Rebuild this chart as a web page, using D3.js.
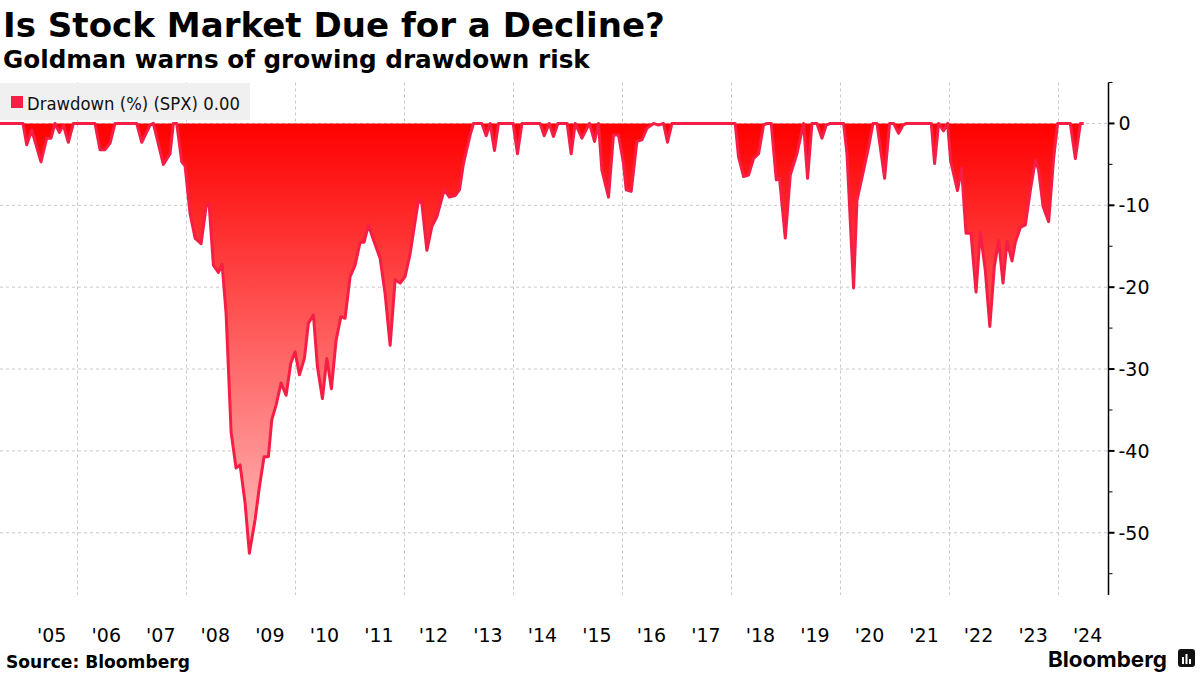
<!DOCTYPE html>
<html><head><meta charset="utf-8">
<script src="https://cdn.jsdelivr.net/npm/d3@7"></script>
<style>
html,body{margin:0;padding:0;background:#fff;}
svg{display:block;}
</style></head>
<body>
<svg id="chart" width="1200" height="675"></svg>
<script>
// ---- data (decimal year, drawdown %) ----
const dates = [2004.587,2005.009,2005.077,2005.169,2005.339,2005.444,2005.523,2005.596,2005.675,2005.749,2005.840,2005.932,
2006.330,2006.422,2006.514,2006.606,2006.697,2007.095,2007.187,2007.339,2007.400,2007.583,2007.706,2007.767,2007.829,2007.921,2007.982,
2008.073,2008.165,2008.275,2008.367,2008.422,2008.501,2008.593,2008.661,2008.734,2008.826,2008.917,2008.991,
2009.083,2009.161,2009.266,2009.345,2009.431,2009.510,2009.572,2009.651,2009.743,2009.835,2009.921,
2010.000,2010.079,2010.171,2010.244,2010.336,2010.409,2010.501,2010.582,2010.666,2010.752,2010.839,2010.917,
2011.009,2011.101,2011.193,2011.266,2011.345,2011.437,2011.560,2011.651,2011.743,2011.835,2011.927,
2012.018,2012.110,2012.262,2012.325,2012.417,2012.508,2012.600,2012.734,2012.831,2012.936,
2013.015,2013.088,2013.150,2013.211,2013.272,2013.426,2013.505,2013.578,2013.657,2013.730,
2014.000,2014.079,2014.160,2014.495,2014.569,2014.661,2014.739,2014.820,2014.991,
2015.064,2015.138,2015.261,2015.400,2015.492,2015.565,2015.627,2015.749,2015.840,2015.932,
2016.024,2016.073,2016.165,2016.270,2016.361,2016.453,2016.574,2016.666,2016.758,2016.831,2016.912,
2018.073,2018.134,2018.226,2018.318,2018.409,2018.501,2018.593,2018.655,2018.734,2018.826,2018.886,2018.991,
2019.083,2019.205,2019.327,2019.400,2019.481,2019.572,2019.664,2019.743,2019.817,
2020.061,2020.123,2020.244,2020.306,2020.428,2020.519,2020.600,2020.673,2020.734,2020.813,2020.905,2020.978,
2021.070,2021.150,2021.211,2021.670,2021.730,2021.804,2021.895,2021.969,
2022.025,2022.150,2022.225,2022.306,2022.398,2022.490,2022.569,2022.661,2022.743,2022.826,2022.905,2022.985,
2023.059,2023.150,2023.211,2023.303,2023.394,2023.486,2023.578,2023.638,2023.719,2023.822,2023.913,2023.987,
2024.220,2024.312,2024.404,2024.465];
const drawdown = [0,0,-2.6,-0.8,-4.7,-1.8,-1.8,0,-1.1,-0.2,-2.3,0,
0,-3.2,-3.2,-2.4,0,0,-2.3,-0.2,0,-5.0,-3.7,0,0,-4.7,-5.2,
-11.0,-14.0,-14.7,-10.2,-9.8,-17.3,-18.2,-17.2,-23.2,-37.7,-42.1,-41.7,
-46.4,-52.5,-48.4,-44.4,-40.7,-40.7,-36.2,-34.4,-31.7,-33.2,-29.3,
-27.9,-30.7,-28.7,-24.4,-23.4,-29.7,-33.6,-28.7,-32.4,-26.5,-23.6,-23.8,
-18.7,-17.3,-14.5,-14.5,-12.4,-14.2,-16.5,-20.8,-27.1,-19.1,-19.5,
-18.7,-15.9,-9.4,-9.8,-15.5,-12.6,-11.4,-8.1,-9.0,-8.8,
-8.1,-4.9,-3.1,-1.4,0,0,-1.5,0,-3.3,0,
0,-3.7,0,0,-1.5,0,-1.6,0,0,
-3.7,0,-1.8,0,-2.2,0,-5.7,-9.0,-1.4,-1.4,
-4.9,-8.1,-8.3,-2.2,-2.0,-0.6,0,-0.2,0,-2.3,0,
0,-4.1,-6.5,-6.3,-4.3,-3.7,-0.2,0,0,-6.9,-6.7,-14.0,
-6.3,-3.7,0,-6.7,0,0,-1.8,-0.2,0,
0,-3.7,-20.1,-9.4,-5.7,-2.9,0,0,-2.9,-6.7,0,0,
-1.2,-0.2,0,0,-4.9,0,-0.9,0,
-4.6,-8.2,-5.5,-13.4,-13.4,-20.6,-13.3,-18.0,-24.8,-17.5,-14.3,-19.5,
-14.4,-16.8,-14.5,-12.7,-12.4,-8.2,-4.5,-5.7,-10.1,-12.0,-4.3,0,
0,-4.3,0,0];
const yearLabels = ["'05","'06","'07","'08","'09","'10","'11","'12","'13","'14","'15","'16","'17","'18","'19","'20","'21","'22","'23","'24"];
const labelYears = d3.range(2005, 2025);
const gridYears = [2006,2008,2010,2012,2014,2016,2018,2020,2022,2024];
const yMajor = [0,-10,-20,-30,-40,-50];
const yMinor = [5,-5,-15,-25,-35,-45,-55];
const titleText = "Is Stock Market Due for a Decline?";
const subtitleText = "Goldman warns of growing drawdown risk";
const legendText = "Drawdown (%) (SPX) 0.00";
const sourceText = "Source: Bloomberg";

const data = dates.map((t,i)=>({t, v: drawdown[i]}));
const svg = d3.select("#chart");
const plotL = 0, plotR = 1108.5, plotT = 82.5, plotB = 595;
const x = d3.scaleLinear().domain([2004.587, 2024.92]).range([plotL, plotR]);
const y = d3.scaleLinear().domain([5, -57.6]).range([plotT, plotB]);

const FONT = "'DejaVu Sans', 'Noto Sans', sans-serif";

function fitText(sel, target){
  const n = sel.node();
  const len = n.getComputedTextLength();
  const x0 = +sel.attr("x");
  const s = target/len;
  sel.attr("transform", `translate(${x0*(1-s)},0) scale(${s},1)`);
}

// defs gradient
const defs = svg.append("defs");
const grad = defs.append("linearGradient").attr("id","ddgrad")
  .attr("gradientUnits","userSpaceOnUse")
  .attr("x1",0).attr("x2",0).attr("y1",y(0)).attr("y2",y(-55));
grad.append("stop").attr("offset","0%").attr("stop-color","#ff0000");
grad.append("stop").attr("offset","100%").attr("stop-color","#ffc4c4");

// gridlines
const grid = svg.append("g");
grid.selectAll("line.h").data(yMajor).join("line")
  .attr("x1", plotL).attr("x2", plotR)
  .attr("y1", d=>y(d)).attr("y2", d=>y(d))
  .attr("stroke","#c8c8c8").attr("stroke-width",1).attr("stroke-dasharray","3,3");
grid.selectAll("line.v").data(gridYears).join("line")
  .attr("x1", d=>Math.round(x(d))+0.5).attr("x2", d=>Math.round(x(d))+0.5)
  .attr("y1", plotT).attr("y2", plotB)
  .attr("stroke","#c8c8c8").attr("stroke-width",1).attr("stroke-dasharray","3,3");

// legend box
const leg = svg.append("g");
leg.append("rect").attr("x",0).attr("y",83).attr("width",250).attr("height",37).attr("fill","#f0f0f0");
leg.append("rect").attr("x",11).attr("y",96).attr("width",12).attr("height",12).attr("fill","#f71e45");
const lt = leg.append("text").attr("x",27).attr("y",110).text(legendText)
  .attr("font-family",FONT).attr("font-size",18).attr("fill","#111");
fitText(lt, 213);

// area + line
const area = d3.area().x(d=>x(d.t)).y0(y(0)).y1(d=>y(d.v));
const line = d3.line().x(d=>x(d.t)).y(d=>y(d.v));
svg.append("path").datum(data).attr("d",area).attr("fill","url(#ddgrad)");
svg.append("path").datum(data).attr("d",line).attr("fill","none")
  .attr("stroke","#f71e45").attr("stroke-width",3).attr("stroke-linejoin","round");

// y axis (right)
const ax = svg.append("g");
ax.append("line").attr("x1",plotR).attr("x2",plotR).attr("y1",plotT).attr("y2",plotB)
  .attr("stroke","#000").attr("stroke-width",1.5);
ax.selectAll("line.maj").data(yMajor).join("line")
  .attr("x1",plotR).attr("x2",plotR+6).attr("y1",d=>y(d)).attr("y2",d=>y(d))
  .attr("stroke","#000").attr("stroke-width",2);
ax.selectAll("line.min").data(yMinor).join("line")
  .attr("x1",plotR).attr("x2",plotR+4).attr("y1",d=>y(d)).attr("y2",d=>y(d))
  .attr("stroke","#000").attr("stroke-width",1);
ax.selectAll("text").data(yMajor).join("text")
  .attr("x",plotR+10).attr("y",d=>y(d)+7)
  .attr("font-family",FONT).attr("font-size",19).attr("fill","#000")
  .text(d=>d===0?"0":"-"+Math.abs(d));

// x axis labels
svg.append("g").selectAll("text").data(labelYears).join("text")
  .attr("x", d=>x(d+0.5)+2).attr("y",642).attr("text-anchor","middle")
  .attr("font-family",FONT).attr("font-size",19).attr("fill","#000")
  .text((d,i)=>yearLabels[i]);

// titles
const t1 = svg.append("text").attr("x",3).attr("y",37).text(titleText)
  .attr("font-family",FONT).attr("font-weight","bold").attr("font-size",34).attr("fill","#000");
fitText(t1, 662);
const t2 = svg.append("text").attr("x",3).attr("y",68).text(subtitleText)
  .attr("font-family",FONT).attr("font-weight","bold").attr("font-size",24).attr("fill","#000");
fitText(t2, 587);

// footer
const s1 = svg.append("text").attr("x",6).attr("y",668).text(sourceText)
  .attr("font-family",FONT).attr("font-weight","bold").attr("font-size",17).attr("fill","#000");
fitText(s1, 184);
const bl = svg.append("text").attr("x",1048).attr("y",667).text("Bloomberg")
  .attr("font-family","Inter, Roboto, sans-serif").attr("font-weight","bold").attr("font-size",22).attr("fill","#000");
fitText(bl, 119);
const ic = svg.append("g");
ic.append("rect").attr("x",1178).attr("y",649).attr("width",17).attr("height",18).attr("rx",3).attr("fill","#111");
[[1182,657,2,7],[1185.5,654,2,10],[1189,659,2,5]].forEach(b=>{
  ic.append("rect").attr("x",b[0]).attr("y",b[1]).attr("width",b[2]).attr("height",b[3]).attr("fill","#fff");
});
</script>
</body></html>
